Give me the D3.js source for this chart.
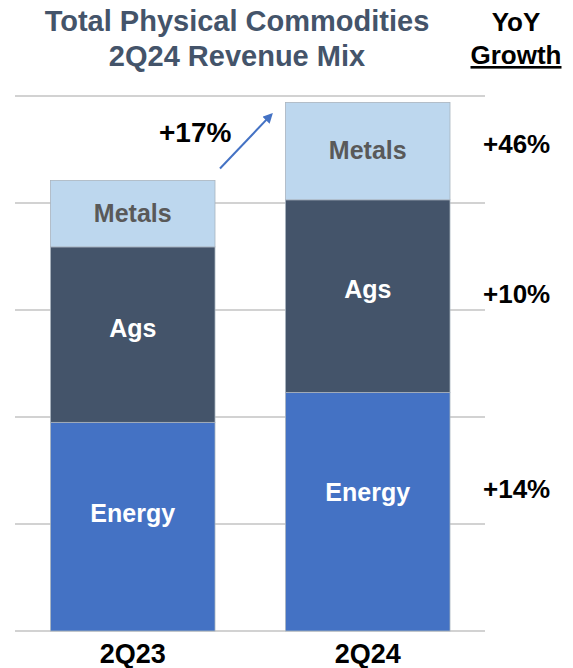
<!DOCTYPE html>
<html>
<head>
<meta charset="utf-8">
<script src="https://cdn.jsdelivr.net/npm/d3@7/dist/d3.min.js"></script>
<style>
  html, body { margin: 0; padding: 0; background: #fff; }
  svg { display: block; font-family: "Liberation Sans", Arial, Helvetica, sans-serif; font-weight: bold; }
</style>
</head>
<body>
<svg id="chart" width="573" height="668"></svg>
<script>
// Revenue mix per quarter (relative units, stacked bottom to top)
const categories = ["2Q23", "2Q24"];
const seriesNames = ["Energy", "Ags", "Metals"];
const energy = [1.95, 2.23];
const ags = [1.64, 1.80];
const metals = [0.62, 0.91];
const growthLabels = ["+14%", "+10%", "+46%"];   // YoY by segment
const totalGrowthLabel = "+17%";
const gridTicks = [0, 1, 2, 3, 4, 5];

const colors = { Energy: "#4472C4", Ags: "#44546A", Metals: "#BDD7EE" };
const labelColors = { Energy: "#ffffff", Ags: "#ffffff", Metals: "#595959" };
// baseline offsets of in-bar labels from segment centres, per series then quarter
const labelNudge = { Energy: [-5, -10.5], Ags: [2, 1.5], Metals: [8, 7.5] };
const growthNudge = { Energy: -13.5, Ags: 7, Metals: 1.5 };

const rows = categories.map((c, i) => ({ cat: c, Energy: energy[i], Ags: ags[i], Metals: metals[i] }));
const stacked = d3.stack().keys(seriesNames)(rows);

const svg = d3.select("#chart");

const x = d3.scaleBand().domain(categories).range([50.5, 450]).paddingInner(0.3).paddingOuter(0);
const y = d3.scaleLinear().domain([0, 5]).range([631, 96]);

// horizontal gridlines
svg.append("g").selectAll("line").data(gridTicks).join("line")
  .attr("x1", 15).attr("x2", 485)
  .attr("y1", d => y(d)).attr("y2", d => y(d))
  .attr("stroke", "#c3c3c3").attr("stroke-width", 1.6);

// stacked bars
const layers = svg.append("g").selectAll("g").data(stacked).join("g")
  .attr("fill", d => colors[d.key]);
layers.selectAll("rect").data(d => d).join("rect")
  .attr("x", d => x(d.data.cat))
  .attr("width", x.bandwidth())
  .attr("y", d => y(d[1]))
  .attr("height", d => y(d[0]) - y(d[1]))
  .attr("stroke", "#a9b3bf").attr("stroke-width", 0.8);

// segment labels
stacked.forEach(layer => {
  svg.append("g").selectAll("text").data(layer).join("text")
    .attr("x", d => x(d.data.cat) + x.bandwidth() / 2)
    .attr("y", (d, i) => (y(d[0]) + y(d[1])) / 2 + labelNudge[layer.key][i])
    .attr("text-anchor", "middle")
    .attr("font-size", 25)
    .attr("fill", labelColors[layer.key])
    .text(layer.key);
});

// category axis labels
svg.append("g").selectAll("text").data(categories).join("text")
  .attr("x", d => x(d) + x.bandwidth() / 2)
  .attr("y", 663)
  .attr("text-anchor", "middle")
  .attr("font-size", 27)
  .attr("fill", "#000")
  .text(d => d);

// YoY growth column, aligned to the latest quarter's segments
const last = categories.length - 1;
stacked.forEach((layer, k) => {
  const d = layer[last];
  svg.append("text")
    .attr("x", 483)
    .attr("y", (y(d[0]) + y(d[1])) / 2 + growthNudge[layer.key])
    .attr("font-size", 26)
    .attr("fill", "#000")
    .text(growthLabels[k]);
});

// total growth arrow
const totals = rows.map(r => seriesNames.reduce((s, k) => s + r[k], 0));
const defs = svg.append("defs");
defs.append("marker")
  .attr("id", "head").attr("viewBox", "0 0 10 10")
  .attr("refX", 8).attr("refY", 5)
  .attr("markerWidth", 5).attr("markerHeight", 5)
  .attr("orient", "auto")
  .append("path").attr("d", "M0,0 L10,5 L0,10 z").attr("fill", "#4472C4");
svg.append("line")
  .attr("x1", x(categories[0]) + x.bandwidth() + 5)
  .attr("y1", y(totals[0]) - 12)
  .attr("x2", x(categories[1]) - 14)
  .attr("y2", y(totals[1]) + 12)
  .attr("stroke", "#4472C4").attr("stroke-width", 2)
  .attr("marker-end", "url(#head)");
svg.append("text")
  .attr("x", 159).attr("y", 141.5)
  .attr("font-size", 28).attr("fill", "#000")
  .text(totalGrowthLabel);

// title
const title = svg.append("text").attr("text-anchor", "middle").attr("font-size", 29).attr("fill", "#44546A");
title.append("tspan").attr("x", 237).attr("y", 31).text("Total Physical Commodities");
title.append("tspan").attr("x", 237).attr("y", 66).text("2Q24 Revenue Mix");

// column header
svg.append("text").attr("x", 516).attr("y", 31).attr("text-anchor", "middle")
  .attr("font-size", 26).attr("fill", "#000").text("YoY");
svg.append("text").attr("x", 516).attr("y", 64).attr("text-anchor", "middle")
  .attr("font-size", 26).attr("fill", "#000")
  .attr("text-decoration", "underline").text("Growth");
</script>
</body>
</html>
